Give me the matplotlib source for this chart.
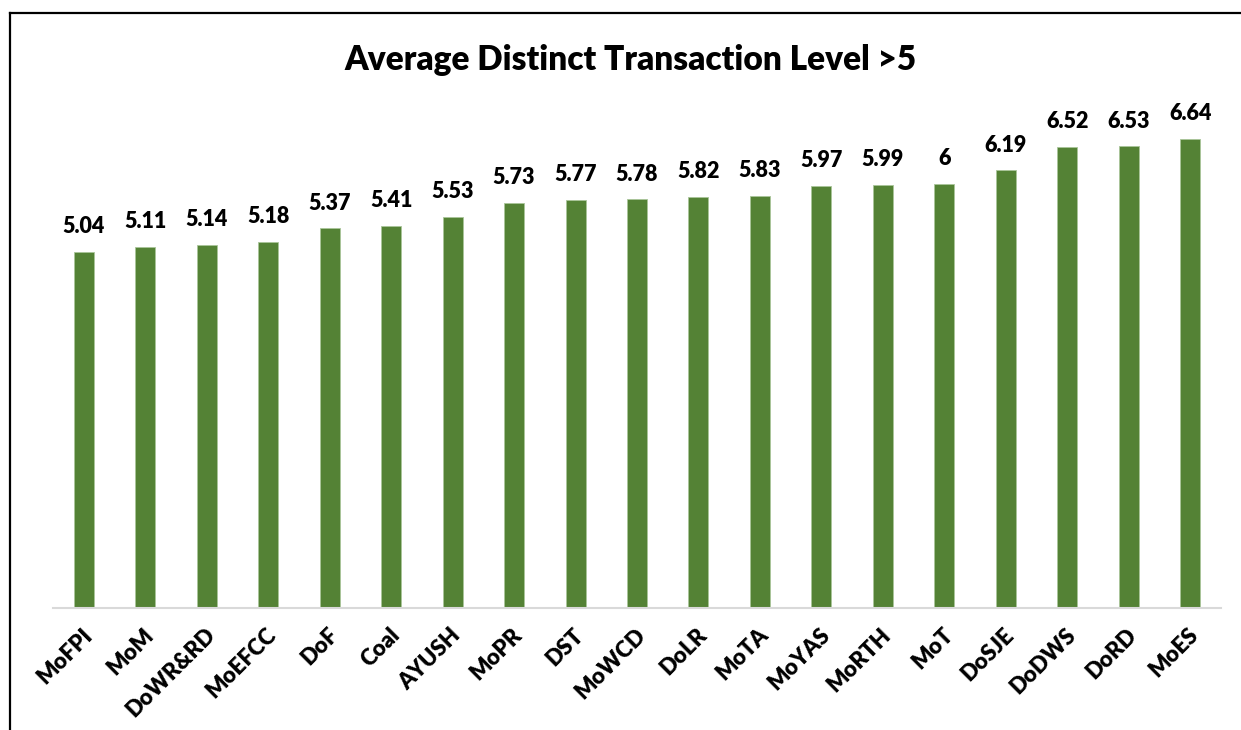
import matplotlib
matplotlib.use('Agg')
import matplotlib.pyplot as plt
import matplotlib.transforms as mtransforms
from matplotlib.lines import Line2D

# departments / ministries
categories = ['MoFPI', 'MoM', 'DoWR&RD', 'MoEFCC', 'DoF', 'Coal', 'AYUSH', 'MoPR', 'DST',
              'MoWCD', 'DoLR', 'MoTA', 'MoYAS', 'MoRTH', 'MoT', 'DoSJE', 'DoDWS', 'DoRD', 'MoES']
# average distinct transaction level
values = [5.04, 5.11, 5.14, 5.18, 5.37, 5.41, 5.53, 5.73, 5.77,
          5.78, 5.82, 5.83, 5.97, 5.99, 6, 6.19, 6.52, 6.53, 6.64]
value_labels = ['5.04', '5.11', '5.14', '5.18', '5.37', '5.41', '5.53', '5.73', '5.77',
                '5.78', '5.82', '5.83', '5.97', '5.99', '6', '6.19', '6.52', '6.53', '6.64']
title = 'Average Distinct Transaction Level >5'

plt.rcParams['font.family'] = ['Lato', 'DejaVu Sans']

W, H = 1241, 730
fig = plt.figure(figsize=(W / 100, H / 100), dpi=100)

# axes placement in pixels
ax_left, ax_right, ax_base = 53, 1221, 608
ymax = 7.2
px_per_unit = 70.7
ax_top = ax_base - ymax * px_per_unit
ax = fig.add_axes([ax_left / W, 1 - ax_base / H, (ax_right - ax_left) / W, (ax_base - ax_top) / H])

x = list(range(len(categories)))
bars = ax.bar(x, values, width=0.325, color='#548235', edgecolor='#a9c59a', linewidth=0.6)

for xi, v, lab in zip(x, values, value_labels):
    ax.annotate(lab, (xi, v), xytext=(0, 10.5), textcoords='offset points',
                ha='center', va='bottom', fontsize=15.5, fontweight='heavy', color='black')

ax.set_xlim(-0.5, len(categories) - 0.5)
ax.set_ylim(0, ymax)
ax.set_yticks([])
ax.set_xticks(x)
ax.set_xticklabels(categories, rotation=45, ha='right', va='center', rotation_mode='anchor',
                   fontsize=16, fontweight='heavy')
ax.tick_params(axis='x', length=0, pad=17)
# nudge tick labels a little to the right, like the original
shift = mtransforms.ScaledTranslation(5 / 100, 0, fig.dpi_scale_trans)
for lbl in ax.get_xticklabels():
    lbl.set_transform(lbl.get_transform() + shift)
for s in ['top', 'right', 'left']:
    ax.spines[s].set_visible(False)
ax.spines['bottom'].set_color('#d9d9d9')
ax.spines['bottom'].set_linewidth(1.5)

fig.text(631 / W, 1 - 60 / H, title, ha='center', va='center', fontsize=24, fontweight='heavy')

# outer chart border (left and top visible)
fig.add_artist(Line2D([10 / W, 10 / W], [0, 1 - 13 / H], transform=fig.transFigure, color='black', lw=1.6))
fig.add_artist(Line2D([10 / W, 1], [1 - 13 / H, 1 - 13 / H], transform=fig.transFigure, color='black', lw=1.6))

fig.savefig('out.png', dpi=100)
